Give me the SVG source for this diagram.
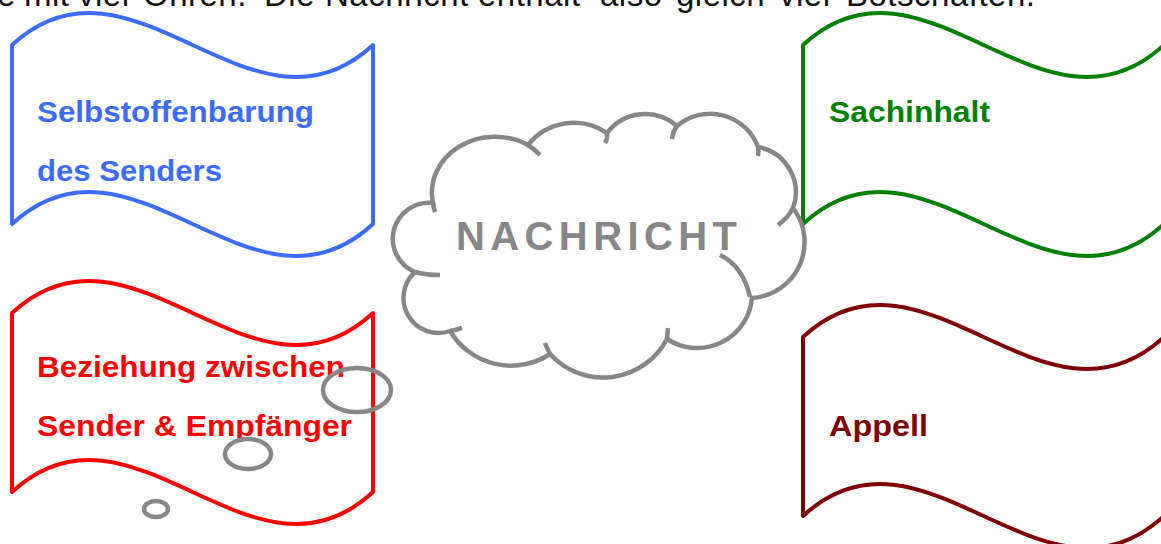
<svg xmlns="http://www.w3.org/2000/svg" width="1161" height="544" viewBox="0 0 1161 544">
  <style>
    .flag { fill: #fff; stroke-width: 4; stroke-linejoin: round; }
    .lbl { font-family: "Liberation Sans", Arial, sans-serif; font-weight: bold; font-size: 30px; }
    .cloud { fill: #fff; stroke: #878787; stroke-width: 4.5; }
    .tick { fill: none; stroke: #878787; stroke-width: 4.5; }
    .bubble { fill: none; stroke: #878787; stroke-width: 4.5; }
    .intro { font-family: "Liberation Sans", Arial, sans-serif; font-size: 33px; letter-spacing: 0.5px; fill: #111; }
  </style>

  <rect width="1161" height="544" fill="#fff"/>

  <!-- intro sentence, cut off at the top edge; one span per word -->
  <text class="intro" y="6"><tspan x="-3">e</tspan><tspan x="24">mit</tspan><tspan x="78">vier</tspan><tspan x="143">Ohren.</tspan><tspan x="264">Die</tspan><tspan x="325">Nachricht</tspan><tspan x="478">enthält</tspan><tspan x="600">also</tspan><tspan x="676">gleich</tspan><tspan x="779">vier</tspan><tspan x="846">Botschaften.</tspan></text>

  <!-- four wave-shaped message flags -->
  <g id="selbstoffenbarung">
    <path class="flag" stroke="#3b6bff" d="M12,45 C132,-66 253,156 373,45 L373,224 C253,335 132,113 12,224 Z"/>
    <text class="lbl" fill="#3b6bff" x="37" y="122" textLength="277" lengthAdjust="spacingAndGlyphs">Selbstoffenbarung</text>
    <text class="lbl" fill="#3b6bff" x="37" y="181" textLength="185" lengthAdjust="spacingAndGlyphs">des Senders</text>
  </g>

  <g id="sachinhalt">
    <path class="flag" stroke="#008000" d="M803,45 C923,-66 1044,156 1164,45 L1164,224 C1044,335 923,113 803,224 Z"/>
    <text class="lbl" fill="#008000" x="829" y="122" textLength="161" lengthAdjust="spacingAndGlyphs">Sachinhalt</text>
  </g>

  <g id="beziehung">
    <path class="flag" stroke="#ff0000" d="M12,313 C132,202 253,424 373,313 L373,492 C253,603 132,381 12,492 Z"/>
    <text class="lbl" fill="#ff0000" x="37" y="377" textLength="308" lengthAdjust="spacingAndGlyphs">Beziehung zwischen</text>
    <text class="lbl" fill="#ff0000" x="37" y="436" textLength="315" lengthAdjust="spacingAndGlyphs">Sender &amp; Empfänger</text>
  </g>

  <g id="appell">
    <path class="flag" stroke="#800000" d="M803,337 C923,226 1044,448 1164,337 L1164,516 C1044,627 923,405 803,516 Z"/>
    <text class="lbl" fill="#800000" x="829" y="436" textLength="99" lengthAdjust="spacingAndGlyphs">Appell</text>
  </g>

  <!-- central thought cloud with its trailing bubbles -->
  <g id="nachricht">
    <path class="cloud" d="M415,272 A36,36 0 0 1 433,203 A63,56 0 0 1 528,145 A59,59 0 0 1 607,133 A48,48 0 0 1 677,126 A51,51 0 0 1 758,147 A46,46 0 0 1 793,208 A56,56 0 0 1 752,298 A55,55 0 0 1 667,339 A72,72 0 0 1 550,354 A71,71 0 0 1 450,331 A35,35 0 0 1 415,272 Z"/>
    <path class="tick" d="M433,203 A63,56 0 0 0 435,212"/>
    <path class="tick" d="M528,145 A63,56 0 0 1 540,155"/>
    <path class="tick" d="M607,133 Q608,138 605,143"/>
    <path class="tick" d="M677,126 Q673,131 672,139"/>
    <path class="tick" d="M758,147 Q759,151 758,156"/>
    <path class="tick" d="M793,208 A46,46 0 0 1 778,225"/>
    <path class="tick" d="M720,255 Q743,266 750,297"/>
    <path class="tick" d="M667,339 L668,328"/>
    <path class="tick" d="M550,354 Q547,348 545,343"/>
    <path class="tick" d="M450,331 Q456,330 462,328"/>
    <path class="tick" d="M415,272 Q425,275 440,275"/>
    <text x="456" y="250" textLength="281" lengthAdjust="spacing" font-family="Liberation Sans, Arial, sans-serif" font-weight="bold" font-size="40" fill="#878787">NACHRICHT</text>
    <ellipse class="bubble" cx="357" cy="390" rx="34" ry="22"/>
    <ellipse class="bubble" cx="248" cy="454" rx="23" ry="15"/>
    <ellipse class="bubble" cx="156" cy="509" rx="12" ry="8" stroke-width="4"/>
  </g>
</svg>
